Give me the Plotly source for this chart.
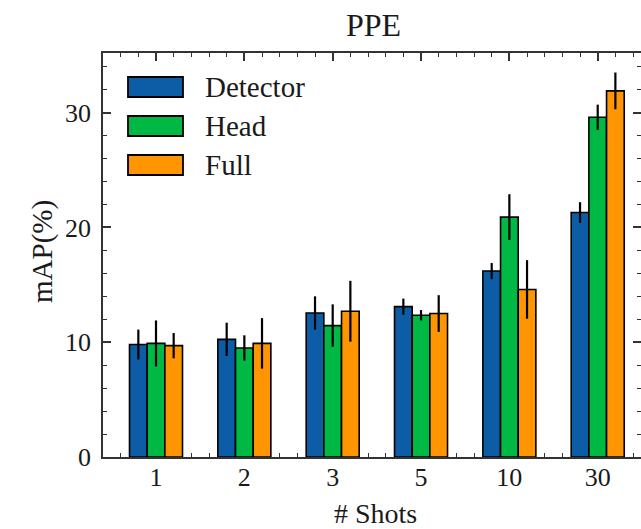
import plotly.graph_objects as go

categories = ["1", "2", "3", "5", "10", "30"]
series_names = ["Detector", "Head", "Full"]
series_colors = ["#0C5DA5", "#00B945", "#FF9500"]
detector = [9.8, 10.25, 12.55, 13.1, 16.2, 21.3]
detector_err = [1.3, 1.45, 1.45, 0.7, 0.7, 0.9]
head = [9.9, 9.5, 11.45, 12.35, 20.9, 29.6]
head_err = [2.0, 1.1, 1.85, 0.45, 2.0, 1.1]
full = [9.7, 9.9, 12.7, 12.5, 14.6, 31.9]
full_err = [1.1, 2.2, 2.65, 1.6, 2.55, 1.6]

values = [detector, head, full]
errors = [detector_err, head_err, full_err]

FONT = "Liberation Serif"
W, H = 641, 529
L, R, T, B = 103, 0, 53, 72
PW = W - L - R
PH = H - T - B

def px2paper_x(px):
    return (px - L) / PW

def py2paper_y(py):
    return (H - B - py) / PH

x_idx = list(range(len(categories)))
bar_w = 0.2

fig = go.Figure()
for i, (name, col, vals, errs) in enumerate(zip(series_names, series_colors, values, errors)):
    fig.add_trace(go.Bar(
        x=x_idx, y=vals, name=name, width=bar_w, offset=-0.3 + bar_w * i,
        marker=dict(color=col, line=dict(color="black", width=1.6)),
        error_y=dict(type="data", array=errs, color="black", thickness=2.2, width=0),
        showlegend=False,
    ))

axis_col = "#333333"
txt_col = "#1a1a1a"
fig.update_layout(
    width=W, height=H,
    margin=dict(l=L, r=R, t=T, b=B, autoexpand=False),
    paper_bgcolor="white", plot_bgcolor="white",
    barmode="overlay",
    font=dict(family=FONT, size=26, color=txt_col),
    xaxis=dict(
        range=[-0.6, 5.49], tickmode="array", tickvals=x_idx, ticktext=categories,
        ticks="inside", ticklen=8, tickwidth=1.5, tickcolor=axis_col,
        showline=True, linecolor=axis_col, linewidth=1.5, mirror="ticks",
        showgrid=False, zeroline=False, layer="below traces", automargin=False,
        minor=dict(tickmode="linear", tick0=0, dtick=0.2, ticks="inside", ticklen=4,
                   tickwidth=1.2, tickcolor=axis_col, showgrid=False),
        tickfont=dict(family=FONT, size=26),
        ticklabelstandoff=-4,
    ),
    yaxis=dict(
        range=[0, 35.2], tickmode="array", tickvals=[0, 10, 20, 30],
        ticks="inside", ticklen=8, tickwidth=1.5, tickcolor=axis_col,
        showline=True, linecolor=axis_col, linewidth=1.5, mirror=False,
        showgrid=False, zeroline=False, layer="below traces", automargin=False,
        minor=dict(tickmode="linear", tick0=0, dtick=2, ticks="inside", ticklen=4,
                   tickwidth=1.2, tickcolor=axis_col, showgrid=False),
        tickfont=dict(family=FONT, size=26),
        ticklabelstandoff=5,
    ),
    yaxis2=dict(
        range=[0, 35.2], overlaying="y", side="right", tickmode="array",
        tickvals=[0, 10, 20, 30], showticklabels=False, automargin=False,
        ticks="inside", ticklen=8, tickwidth=1.5, tickcolor=axis_col,
        showline=False, showgrid=False, zeroline=False,
        minor=dict(tickmode="linear", tick0=0, dtick=2, ticks="inside", ticklen=4,
                   tickwidth=1.2, tickcolor=axis_col, showgrid=False),
    ),
)
# invisible trace to activate yaxis2
fig.add_trace(go.Scatter(x=[0], y=[0], yaxis="y2", mode="markers",
                         marker=dict(opacity=0), showlegend=False, hoverinfo="skip"))

# Title and axis titles as annotations (pixel-placed)
fig.add_annotation(xref="paper", yref="paper", x=px2paper_x(373), y=py2paper_y(25),
                   text="PPE", showarrow=False, xanchor="center", yanchor="middle",
                   font=dict(family=FONT, size=32, color=txt_col))
fig.add_annotation(xref="paper", yref="paper", x=px2paper_x(375), y=py2paper_y(513),
                   text="# Shots", showarrow=False, xanchor="center", yanchor="middle",
                   font=dict(family=FONT, size=28, color=txt_col))
fig.add_annotation(xref="paper", yref="paper", x=px2paper_x(42), y=py2paper_y(252),
                   text="mAP(%)", showarrow=False, xanchor="center", yanchor="middle",
                   textangle=-90, font=dict(family=FONT, size=29, color=txt_col))

# Custom legend (wide rectangular swatches like the reference)
row_centers_px = [87, 126, 165]
sw_x0, sw_x1, sw_h = 128, 183, 20
for name, col, cy in zip(series_names, series_colors, row_centers_px):
    fig.add_shape(type="rect", xref="paper", yref="paper",
                  x0=px2paper_x(sw_x0), x1=px2paper_x(sw_x1),
                  y0=py2paper_y(cy + sw_h / 2), y1=py2paper_y(cy - sw_h / 2),
                  fillcolor=col, line=dict(color="black", width=1.8))
    fig.add_annotation(xref="paper", yref="paper", x=px2paper_x(203), y=py2paper_y(cy),
                       text=name, showarrow=False, xanchor="left", yanchor="middle",
                       font=dict(family=FONT, size=29, color=txt_col))

fig.write_html("out.html", config={"displayModeBar": False},
               post_script="document.body.style.margin='0';document.body.style.overflow='hidden';")
